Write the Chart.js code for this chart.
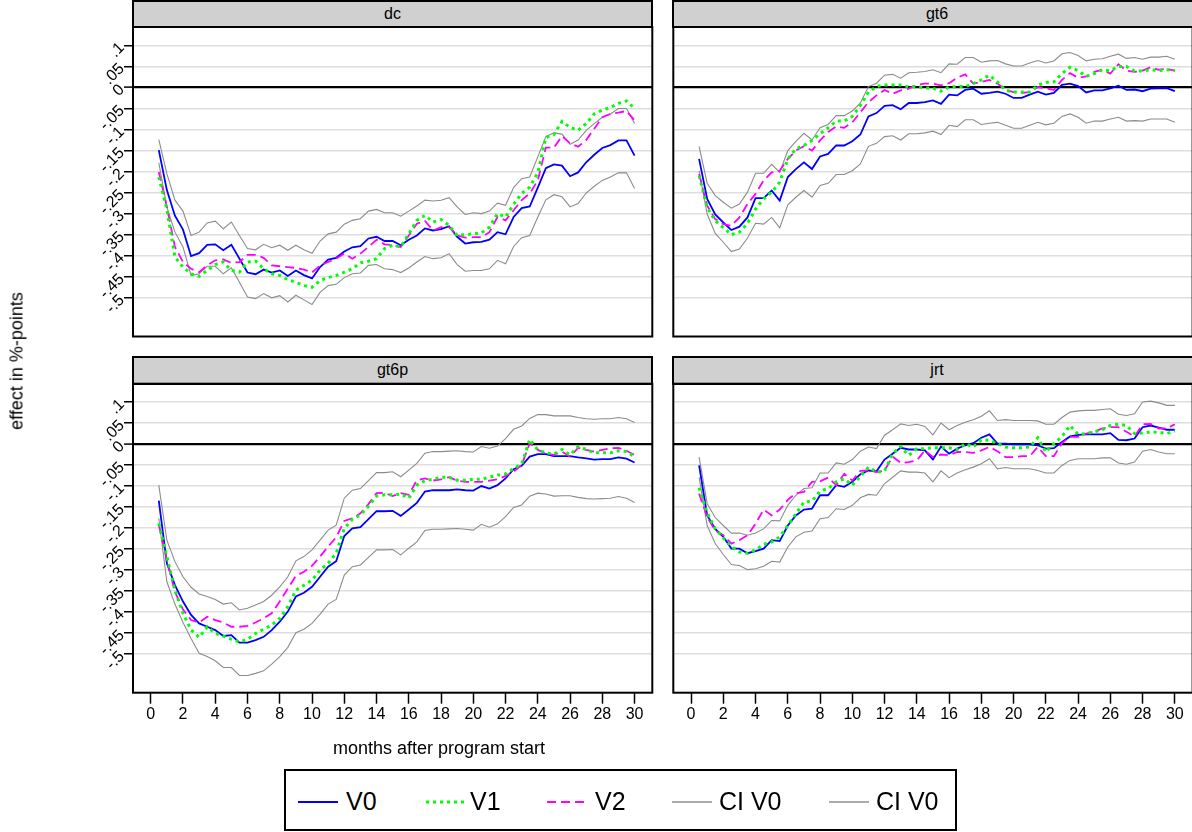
<!DOCTYPE html>
<html>
<head>
<meta charset="utf-8">
<script src="https://cdn.jsdelivr.net/npm/chart.js@4.4.0/dist/chart.umd.min.js"></script>
<style>
  body { margin: 0; width: 1192px; height: 832px; overflow: hidden; background: #fff; position: relative;
         font-family: "Liberation Sans", Arial, sans-serif; color: #000; }
  canvas { position: absolute; }
  .strip { position: absolute; background: #d0d0d0; border: 2px solid #000; box-sizing: border-box;
           text-align: center; font-size: 16px; line-height: 23px; }
  .ytitle { position: absolute; left: 17px; top: 361px; font-size: 18px; white-space: nowrap;
            transform: translate(-50%, -50%) rotate(-90deg); }
  .xtitle { position: absolute; left: 439px; top: 748px; font-size: 18px; white-space: nowrap;
            transform: translate(-50%, -50%); }
  .legend { position: absolute; left: 284px; top: 769px; width: 673px; height: 62px;
            border: 2px solid #000; box-sizing: border-box; }
  .legend svg { position: absolute; top: 29px; }
  .legend span { position: absolute; top: 16px; font-size: 25px; line-height: 28px; white-space: nowrap; }
</style>
</head>
<body>

<div class="strip" style="left:132px; top:0px; width:521px; height:28px;">dc</div>
<div class="strip" style="left:672px; top:0px; width:530px; height:28px;">gt6</div>
<div class="strip" style="left:132px; top:356px; width:521px; height:29px;">gt6p</div>
<div class="strip" style="left:672px; top:356px; width:530px; height:29px;">jrt</div>

<canvas id="c_dc" width="656" height="314" style="left:0px; top:26px;"></canvas>
<canvas id="c_gt6" width="536" height="314" style="left:663px; top:26px;"></canvas>
<canvas id="c_gt6p" width="656" height="362" style="left:0px; top:382px;"></canvas>
<canvas id="c_jrt" width="536" height="362" style="left:663px; top:382px;"></canvas>

<div class="ytitle">effect in %-points</div>
<div class="xtitle">months after program start</div>

<div class="legend">
  <svg style="left:12px;" width="40" height="4"><line x1="0" y1="2" x2="40" y2="2" stroke="#0000ff" stroke-width="2"/></svg>
  <span style="left:60px;">V0</span>
  <svg style="left:140px;" width="40" height="4"><line x1="0" y1="2" x2="40" y2="2" stroke="#00ff00" stroke-width="3" stroke-dasharray="3,4"/></svg>
  <span style="left:184px;">V1</span>
  <svg style="left:261px;" width="40" height="4"><line x1="0" y1="2" x2="40" y2="2" stroke="#ff00ff" stroke-width="2" stroke-dasharray="9,5"/></svg>
  <span style="left:309px;">V2</span>
  <svg style="left:386px;" width="40" height="4"><line x1="0" y1="2" x2="40" y2="2" stroke="#909090" stroke-width="1.5"/></svg>
  <span style="left:433px;">CI V0</span>
  <svg style="left:543px;" width="40" height="4"><line x1="0" y1="2" x2="40" y2="2" stroke="#909090" stroke-width="1.5"/></svg>
  <span style="left:590px;">CI V0</span>
</div>

<script>
// months after program start (x of every point)
var months = [0.5,1,1.5,2,2.5,3,3.5,4,4.5,5,5.5,6,6.5,7,7.5,8,8.5,9,9.5,10,
              10.5,11,11.5,12,12.5,13,13.5,14,14.5,15,15.5,16,16.5,17,17.5,18,18.5,19,19.5,20,
              20.5,21,21.5,22,22.5,23,23.5,24,24.5,25,25.5,26,26.5,27,27.5,28,28.5,29,29.5,30];

var xTicks = [0,2,4,6,8,10,12,14,16,18,20,22,24,26,28,30];
var yTicks = [-0.5,-0.45,-0.4,-0.35,-0.3,-0.25,-0.2,-0.15,-0.1,-0.05,0,0.05,0.1];
var yLabels = ['-.5','-.45','-.4','-.35','-.3','-.25','-.2','-.15','-.1','-.05','0','.05','.1'];

// panel dc
var dcV0 = [-0.149,-0.244,-0.305,-0.338,-0.401,-0.394,-0.374,-0.373,-0.387,-0.374,
            -0.407,-0.440,-0.444,-0.433,-0.440,-0.435,-0.448,-0.435,-0.446,-0.454,
            -0.427,-0.409,-0.405,-0.390,-0.380,-0.377,-0.359,-0.355,-0.365,-0.365,
            -0.375,-0.362,-0.352,-0.335,-0.340,-0.337,-0.330,-0.355,-0.371,-0.368,
            -0.367,-0.362,-0.344,-0.349,-0.308,-0.287,-0.283,-0.238,-0.192,-0.183,
            -0.186,-0.211,-0.202,-0.178,-0.160,-0.144,-0.137,-0.126,-0.126,-0.162];
var dcV1 = [-0.213,-0.290,-0.403,-0.427,-0.443,-0.449,-0.435,-0.421,-0.415,-0.435,
            -0.439,-0.415,-0.413,-0.431,-0.443,-0.447,-0.457,-0.463,-0.471,-0.475,
            -0.459,-0.452,-0.447,-0.439,-0.431,-0.417,-0.413,-0.407,-0.383,-0.375,
            -0.379,-0.348,-0.316,-0.304,-0.320,-0.314,-0.328,-0.352,-0.350,-0.348,
            -0.346,-0.332,-0.300,-0.308,-0.278,-0.252,-0.237,-0.203,-0.119,-0.112,
            -0.081,-0.095,-0.102,-0.086,-0.063,-0.054,-0.048,-0.038,-0.032,-0.050];
var dcV2 = [-0.201,-0.284,-0.379,-0.415,-0.431,-0.439,-0.423,-0.411,-0.409,-0.417,
            -0.415,-0.398,-0.398,-0.405,-0.423,-0.425,-0.427,-0.429,-0.433,-0.440,
            -0.423,-0.415,-0.407,-0.395,-0.407,-0.395,-0.379,-0.362,-0.373,-0.375,
            -0.379,-0.352,-0.324,-0.317,-0.340,-0.332,-0.332,-0.352,-0.357,-0.356,
            -0.356,-0.344,-0.308,-0.316,-0.292,-0.268,-0.252,-0.221,-0.143,-0.143,
            -0.116,-0.133,-0.141,-0.125,-0.098,-0.071,-0.063,-0.060,-0.056,-0.078];
var dcHi = [-0.124,-0.205,-0.268,-0.294,-0.352,-0.344,-0.322,-0.318,-0.336,-0.320,
            -0.352,-0.383,-0.386,-0.373,-0.381,-0.375,-0.387,-0.375,-0.386,-0.394,
            -0.365,-0.348,-0.344,-0.325,-0.316,-0.312,-0.294,-0.290,-0.298,-0.298,
            -0.306,-0.294,-0.282,-0.268,-0.270,-0.268,-0.262,-0.284,-0.302,-0.298,
            -0.300,-0.294,-0.275,-0.280,-0.238,-0.217,-0.213,-0.165,-0.117,-0.108,
            -0.111,-0.135,-0.125,-0.102,-0.086,-0.071,-0.063,-0.050,-0.050,-0.086];
var dcLo = [-0.179,-0.284,-0.344,-0.379,-0.447,-0.443,-0.425,-0.425,-0.443,-0.429,
            -0.463,-0.498,-0.502,-0.490,-0.500,-0.495,-0.510,-0.494,-0.505,-0.516,
            -0.487,-0.471,-0.468,-0.452,-0.443,-0.441,-0.423,-0.421,-0.431,-0.433,
            -0.440,-0.429,-0.415,-0.402,-0.407,-0.405,-0.395,-0.421,-0.437,-0.435,
            -0.435,-0.431,-0.411,-0.419,-0.378,-0.357,-0.352,-0.308,-0.267,-0.255,
            -0.260,-0.284,-0.276,-0.251,-0.235,-0.221,-0.213,-0.203,-0.203,-0.240];

// panel gt6
var gt6V0 = [-0.170,-0.265,-0.302,-0.321,-0.339,-0.331,-0.309,-0.263,-0.263,-0.245,
             -0.269,-0.213,-0.194,-0.178,-0.194,-0.164,-0.158,-0.138,-0.138,-0.128,
             -0.112,-0.069,-0.061,-0.044,-0.042,-0.052,-0.037,-0.037,-0.035,-0.031,
             -0.039,-0.017,-0.019,-0.006,-0.003,-0.015,-0.013,-0.010,-0.015,-0.025,
             -0.025,-0.017,-0.010,-0.017,-0.013,0.006,0.009,0.003,-0.012,-0.007,
             -0.007,-0.002,0.004,-0.006,-0.005,-0.009,-0.003,-0.002,-0.002,-0.009];
var gt6V1 = [-0.210,-0.285,-0.317,-0.333,-0.350,-0.344,-0.323,-0.289,-0.265,-0.249,
             -0.225,-0.170,-0.146,-0.138,-0.126,-0.110,-0.096,-0.080,-0.080,-0.069,
             -0.043,-0.011,0.002,0.006,0.006,0.006,0.001,0.002,-0.001,-0.002,
             -0.009,0.001,0.002,0.002,0.009,0.018,0.029,0.013,-0.007,-0.011,
             -0.011,-0.011,0.005,0.012,0.013,0.033,0.048,0.040,0.026,0.033,
             0.042,0.040,0.050,0.050,0.039,0.039,0.042,0.040,0.042,0.040];
var gt6V2 = [-0.206,-0.281,-0.313,-0.325,-0.329,-0.309,-0.277,-0.253,-0.221,-0.202,
             -0.198,-0.170,-0.150,-0.140,-0.150,-0.126,-0.106,-0.093,-0.096,-0.083,
             -0.059,-0.035,-0.019,-0.006,-0.015,-0.007,-0.003,0.006,0.009,0.009,
             0.005,0.010,0.023,0.031,0.009,0.013,0.018,0.009,-0.006,-0.011,
             -0.013,-0.011,0.001,-0.002,-0.006,0.018,0.034,0.023,0.026,0.037,
             0.042,0.033,0.055,0.040,0.037,0.040,0.048,0.042,0.044,0.040];
var gt6Hi = [-0.140,-0.228,-0.257,-0.273,-0.287,-0.277,-0.249,-0.204,-0.204,-0.183,
             -0.202,-0.150,-0.128,-0.109,-0.125,-0.096,-0.088,-0.067,-0.067,-0.056,
             -0.037,0.002,0.010,0.029,0.031,0.022,0.035,0.036,0.038,0.042,
             0.035,0.056,0.055,0.071,0.071,0.060,0.063,0.064,0.056,0.051,
             0.051,0.058,0.064,0.058,0.063,0.080,0.083,0.076,0.063,0.067,
             0.068,0.074,0.079,0.069,0.071,0.067,0.072,0.072,0.074,0.067];
var gt6Lo = [-0.198,-0.301,-0.347,-0.368,-0.390,-0.384,-0.358,-0.323,-0.325,-0.309,
             -0.334,-0.279,-0.261,-0.245,-0.261,-0.233,-0.228,-0.207,-0.207,-0.198,
             -0.182,-0.140,-0.133,-0.117,-0.115,-0.125,-0.110,-0.110,-0.108,-0.104,
             -0.112,-0.090,-0.093,-0.077,-0.077,-0.088,-0.085,-0.083,-0.090,-0.097,
             -0.097,-0.090,-0.083,-0.089,-0.085,-0.069,-0.063,-0.071,-0.085,-0.080,
             -0.080,-0.075,-0.071,-0.080,-0.079,-0.080,-0.075,-0.075,-0.075,-0.083];

// panel gt6p
var gt6pV0 = [-0.135,-0.284,-0.336,-0.375,-0.407,-0.427,-0.435,-0.443,-0.457,-0.455,
              -0.473,-0.473,-0.467,-0.459,-0.443,-0.423,-0.399,-0.363,-0.354,-0.340,
              -0.316,-0.292,-0.279,-0.219,-0.201,-0.198,-0.179,-0.160,-0.160,-0.159,
              -0.171,-0.156,-0.140,-0.113,-0.110,-0.110,-0.110,-0.108,-0.110,-0.111,
              -0.100,-0.106,-0.098,-0.082,-0.060,-0.052,-0.030,-0.024,-0.024,-0.029,
              -0.029,-0.029,-0.032,-0.034,-0.037,-0.036,-0.036,-0.032,-0.035,-0.044];
var gt6pV1 = [-0.189,-0.268,-0.348,-0.403,-0.443,-0.460,-0.435,-0.451,-0.457,-0.465,
              -0.471,-0.465,-0.451,-0.441,-0.431,-0.415,-0.387,-0.348,-0.336,-0.324,
              -0.300,-0.284,-0.260,-0.201,-0.179,-0.169,-0.148,-0.124,-0.121,-0.121,
              -0.119,-0.129,-0.098,-0.087,-0.084,-0.079,-0.079,-0.086,-0.086,-0.084,
              -0.084,-0.079,-0.074,-0.071,-0.058,-0.048,0.011,-0.014,-0.021,-0.024,
              -0.013,-0.026,-0.006,-0.013,-0.021,-0.021,-0.021,-0.016,-0.018,-0.030];
var gt6pV2 = [-0.193,-0.276,-0.352,-0.394,-0.419,-0.425,-0.411,-0.419,-0.425,-0.435,
              -0.435,-0.433,-0.425,-0.415,-0.403,-0.375,-0.344,-0.314,-0.304,-0.290,
              -0.268,-0.244,-0.222,-0.183,-0.177,-0.165,-0.143,-0.117,-0.116,-0.124,
              -0.117,-0.121,-0.086,-0.082,-0.087,-0.084,-0.079,-0.087,-0.090,-0.090,
              -0.090,-0.087,-0.084,-0.076,-0.066,-0.050,0.002,-0.014,-0.022,-0.026,
              -0.018,-0.030,-0.009,-0.014,-0.018,-0.014,-0.010,-0.009,-0.016,-0.026];
var gt6pHi = [-0.098,-0.229,-0.280,-0.316,-0.341,-0.357,-0.363,-0.370,-0.381,-0.378,
              -0.395,-0.391,-0.383,-0.375,-0.360,-0.340,-0.316,-0.278,-0.268,-0.252,
              -0.229,-0.205,-0.193,-0.129,-0.110,-0.106,-0.087,-0.068,-0.068,-0.066,
              -0.078,-0.062,-0.046,-0.022,-0.018,-0.018,-0.017,-0.016,-0.018,-0.019,
              -0.006,-0.010,-0.005,0.013,0.035,0.043,0.061,0.070,0.070,0.067,
              0.067,0.067,0.063,0.060,0.059,0.060,0.060,0.063,0.060,0.051];
var gt6pLo = [-0.177,-0.328,-0.381,-0.425,-0.463,-0.498,-0.506,-0.516,-0.532,-0.532,
              -0.551,-0.551,-0.546,-0.540,-0.524,-0.506,-0.484,-0.449,-0.441,-0.427,
              -0.405,-0.381,-0.370,-0.312,-0.292,-0.288,-0.270,-0.252,-0.252,-0.251,
              -0.264,-0.248,-0.233,-0.206,-0.203,-0.203,-0.202,-0.201,-0.203,-0.205,
              -0.191,-0.198,-0.190,-0.173,-0.151,-0.145,-0.124,-0.117,-0.119,-0.124,
              -0.123,-0.123,-0.127,-0.130,-0.131,-0.130,-0.129,-0.125,-0.129,-0.139];

// panel jrt
var jrtV0 = [-0.051,-0.170,-0.202,-0.221,-0.249,-0.249,-0.260,-0.255,-0.249,-0.229,
             -0.231,-0.194,-0.170,-0.156,-0.154,-0.122,-0.122,-0.098,-0.102,-0.090,
             -0.072,-0.063,-0.065,-0.037,-0.023,-0.009,-0.013,-0.013,-0.015,-0.037,
             -0.006,-0.023,-0.011,-0.003,0.002,0.015,0.023,0.001,0.001,-0.001,
             -0.001,-0.001,-0.003,-0.011,-0.010,0.005,0.018,0.022,0.023,0.023,
             0.023,0.026,0.010,0.009,0.013,0.040,0.044,0.039,0.034,0.034];
var jrtV1 = [-0.104,-0.164,-0.202,-0.223,-0.244,-0.257,-0.260,-0.252,-0.239,-0.233,
             -0.221,-0.194,-0.166,-0.138,-0.136,-0.112,-0.106,-0.090,-0.083,-0.098,
             -0.077,-0.055,-0.067,-0.064,-0.023,-0.006,-0.027,-0.011,-0.011,-0.009,
             -0.009,-0.009,-0.013,0.001,-0.007,0.010,0.009,0.001,-0.007,-0.009,
             -0.009,-0.007,0.015,-0.019,0.001,0.018,0.044,0.023,0.025,0.029,
             0.034,0.044,0.047,0.044,0.025,0.026,0.029,0.028,0.025,0.031];
var jrtV2 = [-0.118,-0.174,-0.206,-0.217,-0.237,-0.229,-0.217,-0.190,-0.156,-0.170,
             -0.156,-0.133,-0.117,-0.114,-0.090,-0.089,-0.080,-0.098,-0.071,-0.087,
             -0.064,-0.063,-0.067,-0.063,-0.030,-0.045,-0.043,-0.039,-0.015,-0.031,
             -0.025,-0.027,-0.019,-0.019,-0.021,-0.015,-0.007,-0.017,-0.031,-0.031,
             -0.029,-0.029,-0.007,-0.029,-0.029,0.002,0.017,0.017,0.025,0.029,
             0.037,0.040,0.040,0.029,0.018,0.047,0.048,0.037,0.037,0.047];
var jrtHi = [-0.031,-0.142,-0.175,-0.194,-0.212,-0.212,-0.217,-0.212,-0.202,-0.182,
             -0.183,-0.146,-0.122,-0.106,-0.104,-0.069,-0.069,-0.045,-0.048,-0.037,
             -0.017,-0.007,-0.011,0.021,0.034,0.048,0.044,0.047,0.042,0.022,
             0.050,0.034,0.044,0.052,0.058,0.066,0.079,0.056,0.058,0.056,
             0.056,0.056,0.055,0.047,0.047,0.063,0.076,0.079,0.080,0.080,
             0.082,0.084,0.071,0.068,0.072,0.100,0.102,0.098,0.092,0.092];
var jrtLo = [-0.079,-0.194,-0.237,-0.263,-0.287,-0.289,-0.299,-0.297,-0.291,-0.279,
             -0.281,-0.245,-0.221,-0.210,-0.207,-0.178,-0.175,-0.154,-0.156,-0.146,
             -0.128,-0.120,-0.122,-0.094,-0.079,-0.064,-0.067,-0.067,-0.069,-0.090,
             -0.064,-0.080,-0.069,-0.061,-0.055,-0.047,-0.035,-0.059,-0.056,-0.059,
             -0.059,-0.059,-0.063,-0.069,-0.069,-0.051,-0.039,-0.035,-0.035,-0.035,
             -0.033,-0.033,-0.045,-0.048,-0.043,-0.017,-0.013,-0.019,-0.023,-0.023];

Chart.defaults.font.family = '"Liberation Sans", Arial, sans-serif';
Chart.defaults.color = '#000';

// black frame around the plot region
var framePlugin = {
    id: 'frame',
    afterDraw: function(chart) {
        var a = chart.chartArea;
        var ctx = chart.ctx;
        ctx.save();
        ctx.strokeStyle = '#000';
        ctx.lineWidth = 2;
        ctx.strokeRect(a.left, a.top, a.right - a.left, a.bottom - a.top);
        ctx.restore();
    }
};

function toPts(vals) {
    return months.map(function(m, i) { return { x: m, y: vals[i] }; });
}

function line(label, vals, color, width, dash, order) {
    return {
        label: label,
        data: toPts(vals),
        borderColor: color,
        borderWidth: width,
        borderDash: dash,
        borderCapStyle: 'butt',
        pointRadius: 0,
        tension: 0,
        fill: false,
        order: order
    };
}

// p: {id, v0, v1, v2, hi, lo, left, bottom, yWidth, pad}
function drawPanel(p) {
    var ctx = document.getElementById(p.id).getContext('2d');
    new Chart(ctx, {
        type: 'line',
        data: {
            datasets: [
                line('V0', p.v0, '#0000ff', 1.8, [], 3),
                line('V1', p.v1, '#00ff00', 3, [3, 4], 1),
                line('V2', p.v2, '#ff00ff', 1.8, [9, 5], 2),
                line('CI V0', p.hi, '#8c8c8c', 1.1, [], 4),
                line('CI V0', p.lo, '#8c8c8c', 1.1, [], 5)
            ]
        },
        options: {
            responsive: false,
            animation: false,
            devicePixelRatio: 1,
            layout: { padding: p.pad },
            plugins: { legend: { display: false }, tooltip: { enabled: false } },
            scales: {
                x: {
                    type: 'linear',
                    min: -1.1,
                    max: 31.1,
                    display: p.bottom,
                    afterBuildTicks: function(s) {
                        s.ticks = xTicks.map(function(v) { return { value: v }; });
                    },
                    ticks: {
                        autoSkip: false,
                        maxRotation: 0,
                        padding: 1,
                        font: { size: 16 },
                        callback: function(v) { return String(v); }
                    },
                    grid: {
                        drawOnChartArea: false,
                        drawTicks: true,
                        tickLength: 11,
                        tickColor: '#000',
                        tickWidth: 1.5
                    },
                    border: { display: false },
                    afterFit: function(s) {
                        s.height = p.bottom ? 48 : 0;
                        s.paddingLeft = 0;
                        s.paddingRight = 0;
                    }
                },
                y: {
                    min: -0.592,
                    max: 0.1436,
                    afterBuildTicks: function(s) {
                        s.ticks = yTicks.map(function(v) { return { value: v }; });
                    },
                    ticks: {
                        display: p.left,
                        autoSkip: false,
                        minRotation: 45,
                        maxRotation: 45,
                        padding: 2,
                        font: { size: 16 },
                        callback: function(v, i) { return yLabels[i]; }
                    },
                    grid: {
                        color: function(c) {
                            return (c.tick && c.tick.value === 0) ? '#000' : '#dedede';
                        },
                        lineWidth: function(c) {
                            return (c.tick && c.tick.value === 0) ? 2.2 : 1.5;
                        },
                        drawTicks: p.left,
                        tickLength: 9,
                        tickColor: '#000',
                        tickWidth: 1.5
                    },
                    border: { display: false },
                    afterFit: function(s) {
                        s.width = p.yWidth;
                        s.paddingTop = 0;
                        s.paddingBottom = 0;
                    }
                }
            }
        },
        plugins: [framePlugin]
    });
}

drawPanel({ id: 'c_dc', v0: dcV0, v1: dcV1, v2: dcV2, hi: dcHi, lo: dcLo,
            left: true, bottom: false, yWidth: 133, pad: { top: 1, right: 3.7, bottom: 3.5, left: 0 } });
drawPanel({ id: 'c_gt6', v0: gt6V0, v1: gt6V1, v2: gt6V2, hi: gt6Hi, lo: gt6Lo,
            left: false, bottom: false, yWidth: 10.3, pad: { top: 1, right: 6.4, bottom: 3.5, left: 0 } });
drawPanel({ id: 'c_gt6p', v0: gt6pV0, v1: gt6pV1, v2: gt6pV2, hi: gt6pHi, lo: gt6pLo,
            left: true, bottom: true, yWidth: 133, pad: { top: 1.7, right: 3.7, bottom: 3.3, left: 0 } });
drawPanel({ id: 'c_jrt', v0: jrtV0, v1: jrtV1, v2: jrtV2, hi: jrtHi, lo: jrtLo,
            left: false, bottom: true, yWidth: 10.3, pad: { top: 1.7, right: 6.4, bottom: 3.3, left: 0 } });
</script>
</body>
</html>
